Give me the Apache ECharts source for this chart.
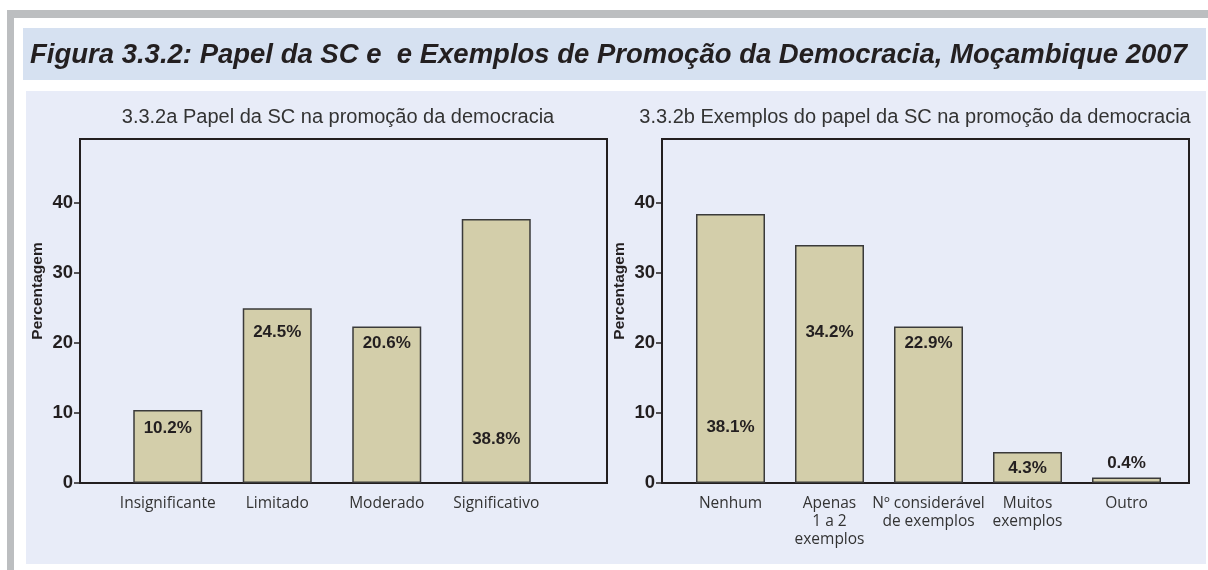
<!DOCTYPE html>
<html>
<head>
<meta charset="utf-8">
<script src="https://cdn.jsdelivr.net/npm/echarts@6/dist/echarts.min.js"></script>
<style>
    html, body { margin: 0; padding: 0; background: #fff; }
    #chart { width: 1208px; height: 570px; }
</style>
</head>
<body>
<div id="chart"></div>
<script>
    // dados
    const TITLE = 'Figura 3.3.2: Papel da SC e  e Exemplos de Promoção da Democracia, Moçambique 2007'
    const SUB_A = '3.3.2a Papel da SC na promoção da democracia'
    const SUB_B = '3.3.2b Exemplos do papel da SC na promoção da democracia'

    const catsA = ['Insignificante', 'Limitado', 'Moderado', 'Significativo']
    const valsA = [10.4, 24.9, 22.3, 37.6]
    const labelsA = ['10.2%', '24.5%', '20.6%', '38.8%']

    const catsB = ['Nenhum', 'Apenas\n1 a 2\nexemplos', 'Nº considerável\nde exemplos', 'Muitos\nexemplos', 'Outro']
    const valsB = [38.3, 33.9, 22.3, 4.4, 0.8]
    const labelsB = ['38.1%', '34.2%', '22.9%', '4.3%', '0.4%']

    const yTicks = [0, 10, 20, 30, 40]

    // distância do rótulo ao topo da barra (px)
    const labelDyA = [18, 24, 17, 220]
    const labelDyB = [213, 87, 17, 16, -14]

    const DARK = '#231f20'
    const BAR = '#d3ceaa'

    let chart = echarts.init(document.getElementById('chart'))

    function boxGrid(left) {
        return {left: left, top: 139, width: 527, height: 344, show: true,
            borderColor: DARK, borderWidth: 2, backgroundColor: 'transparent'}
    }

    function barSeries(vals, labels, dy, axis) {
        return {
            type: 'bar',
            xAxisIndex: axis,
            yAxisIndex: axis,
            barWidth: 69,
            itemStyle: {color: BAR, borderColor: '#3a3a3a', borderWidth: 1.5},
            data: vals.map((v, i) => ({
                value: v,
                label: {
                    show: true,
                    position: ['50%', dy[i]],
                    align: 'center',
                    verticalAlign: 'middle',
                    formatter: labels[i]
                }
            })),
            label: {fontFamily: 'Liberation Sans', fontWeight: 'bold', fontSize: 17, color: DARK},
            silent: true
        }
    }

    function catAxis(grid, cats) {
        return {
            type: 'category', gridIndex: grid, data: cats,
            axisLine: {show: false}, axisTick: {show: false},
            axisLabel: {interval: 0, margin: 12, fontFamily: 'Open Sans', fontSize: 15.5, color: '#333', lineHeight: 18}
        }
    }

    function tickAxis(grid) {
        return {
            type: 'value', gridIndex: grid, min: yTicks[0], max: yTicks[yTicks.length - 1], interval: 10,
            axisLine: {show: false},
            axisTick: {show: true, length: 6, lineStyle: {color: DARK, width: 1.5}},
            splitLine: {show: false},
            axisLabel: {margin: 7, fontFamily: 'Liberation Sans', fontWeight: 'bold', fontSize: 18.5, color: DARK},
            name: 'Percentagem', nameLocation: 'middle', nameGap: 34, nameRotate: 90,
            nameTextStyle: {fontFamily: 'Liberation Sans', fontWeight: 'bold', fontSize: 15.5, color: DARK,
                padding: [0, 0, 0, 104]}
        }
    }

    const hidden = (grid, max) => ({type: 'value', gridIndex: grid, min: 0, max: max, show: false})

    let option = {
        animation: false,
        graphic: [
            {type: 'rect', z: -10, shape: {x: 7, y: 10, width: 1201, height: 8}, style: {fill: '#bcbec0'}},
            {type: 'rect', z: -10, shape: {x: 7, y: 10, width: 7, height: 560}, style: {fill: '#bcbec0'}},
            {type: 'rect', z: -10, shape: {x: 23, y: 28, width: 1183, height: 52}, style: {fill: '#d6e1f1'}},
            {type: 'rect', z: -10, shape: {x: 26, y: 91, width: 1180, height: 473}, style: {fill: '#e8ecf8'}},
            {type: 'text', z: 5, x: 30, y: 55, style: {text: TITLE, fill: DARK,
                font: 'italic bold 27.5px "Liberation Sans"', textVerticalAlign: 'middle'}},
            {type: 'text', z: 5, x: 338, y: 117, style: {text: SUB_A, fill: '#333',
                font: '20px "Liberation Sans"', textAlign: 'center', textVerticalAlign: 'middle'}},
            {type: 'text', z: 5, x: 915, y: 117, style: {text: SUB_B, fill: '#333',
                font: '20px "Liberation Sans"', textAlign: 'center', textVerticalAlign: 'middle'}}
        ],
        grid: [
            boxGrid(80),
            {left: 113, top: 139, width: 438, height: 344},
            {left: 80, top: 203, width: 527, height: 280},
            boxGrid(662),
            {left: 681, top: 139, width: 495, height: 344},
            {left: 662, top: 203, width: 527, height: 280}
        ],
        xAxis: [
            hidden(0, 1), catAxis(1, catsA), hidden(2, 1),
            hidden(3, 1), catAxis(4, catsB), hidden(5, 1)
        ],
        yAxis: [
            hidden(0, 49), hidden(1, 49), tickAxis(2),
            hidden(3, 49), hidden(4, 49), tickAxis(5)
        ],
        series: [
            barSeries(valsA, labelsA, labelDyA, 1),
            barSeries(valsB, labelsB, labelDyB, 4)
        ]
    }

    chart.setOption(option)
</script>
</body>
</html>
